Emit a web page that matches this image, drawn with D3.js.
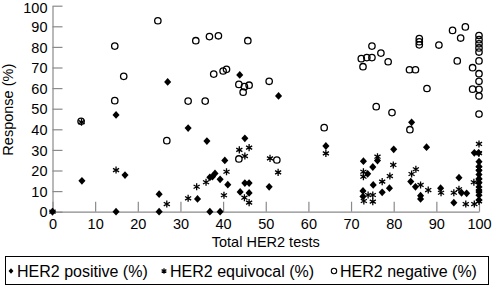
<!DOCTYPE html>
<html>
<head>
<meta charset="utf-8">
<script src="https://cdn.jsdelivr.net/npm/d3@7"></script>
<style>
  body { margin: 0; background: #fff; }
  text { font-family: "Liberation Sans", Arial, sans-serif; }
</style>
</head>
<body>
<div class="container"></div>
<script>
const WIDTH = 492;
const HEIGHT = 294;

var xTicks = [0, 10, 20, 30, 40, 50, 60, 70, 80, 90, 100];
var yTicks = [0, 10, 20, 30, 40, 50, 60, 70, 80, 90, 100];
var seriesNames = ['HER2 positive (%)', 'HER2 equivocal (%)', 'HER2 negative (%)'];

// [total tests, response %]
var positive = [
  [0, 0], [6.9, 15], [14.9, 47], [14.9, 0], [17, 17.8], [25, 8.5], [25, 0], [27, 63],
  [31.8, 40.6], [34, 6.2], [36.2, 34.3], [36.9, 0], [39.3, 0], [36.9, 16.7], [37.5, 17],
  [38.1, 18.6], [39.3, 15.7], [40.4, 24.9], [41.1, 13.1], [43.9, 66.4], [44, 9.6],
  [45.1, 13.9], [46.1, 13.9], [46.1, 9.1], [45.1, 35.6], [50.8, 12.1], [53, 56.2],
  [64.1, 31.9], [72.9, 24.5], [75.1, 21.7], [76.2, 24.8], [80, 30.3], [73.9, 18.4],
  [75.2, 13], [72.8, 10.1], [72.8, 7.4], [77.3, 9.4], [79, 11.4], [84.2, 43.4],
  [87.7, 31.3], [84, 14.6], [85.1, 12.1], [86.3, 7.8], [86.3, 6.2], [91, 11.4],
  [95.3, 16.5], [94.1, 4.4], [95.9, 9.2], [97.1, 8.9], [98.9, 28.6], [99.9, 28.6],
  [100, 24.3], [100, 22], [100, 20], [100, 18], [100, 16], [100, 14], [100, 12],
  [100, 10], [100, 8], [100, 5.7]
];

var equivocal = [
  [0, 0], [6.8, 43.5], [14.9, 20.2], [26.8, 3.7], [31.8, 6.5], [33.8, 12.1], [36, 14.3],
  [40.8, 19.4], [40.2, 8], [43.8, 30], [45.1, 27], [46.1, 31.1], [45, 6.8], [46.1, 4.4],
  [51, 25.9], [52.9, 19.1], [64.1, 28.3], [72.9, 19.4], [72.9, 17], [76.2, 26.7],
  [79.9, 22.7], [77.3, 14.6], [79.1, 17.3], [73, 5.2], [74, 8.1], [75.1, 8.1], [75.1, 4.9],
  [84.2, 18.3], [85.2, 20.6], [86.3, 13], [88.1, 10.5], [91.1, 9.2], [94.1, 9.2],
  [95.3, 10.9], [96.9, 3.7], [98.9, 3.7], [98.8, 14.3], [100, 32.9], [100, 28.4],
  [100, 21], [100, 15], [100, 10], [100, 5]
];

var negative = [
  [6.7, 43.9], [14.6, 80.4], [14.6, 53.9], [16.7, 65.7], [24.7, 92.7], [26.8, 34.5],
  [31.8, 53.7], [33.6, 83], [35.8, 53.7], [36.8, 85], [37.8, 66.8], [38.9, 85.4],
  [40, 68.3], [40.8, 69.1], [43.7, 61.8], [43.7, 25.6], [44.7, 58], [45, 60.7],
  [45.8, 83], [46.1, 61.4], [50.8, 63.3], [52.6, 25.1], [63.7, 40.8], [72.4, 74.3],
  [72.8, 70.4], [73.7, 74.8], [74.9, 74.8], [74.9, 80.4], [75.9, 51], [77, 77],
  [78.7, 72.8], [79.6, 48.1], [83.7, 68.9], [83.8, 39.8], [85.1, 68.9], [86, 84],
  [86, 82.5], [86, 81], [87.8, 59.8], [90.6, 80.9], [93.8, 88], [94.9, 73.2],
  [95.7, 84.3], [96.8, 89.7], [98.5, 69.9], [98.5, 59.5], [100, 85.5], [100, 83.5],
  [100, 81.5], [100, 79.5], [100, 77.5], [100, 73.2], [100, 67], [100, 63.3],
  [100, 59.4], [100, 56.2], [100, 47.4]
];

var margin = { left: 52.5, right: 13, top: 5.7, bottom: 82.3 };

var x = d3.scaleLinear().domain([0, 100]).range([margin.left, WIDTH - margin.right]);
var y = d3.scaleLinear().domain([0, 100]).range([HEIGHT - margin.bottom, margin.top]);

// custom marker shapes
var diamondShape = {
  draw: function (ctx, size) {
    var r = Math.sqrt(size) / 2;
    ctx.moveTo(0, -r * 1.1);
    ctx.lineTo(r, 0);
    ctx.lineTo(0, r * 1.1);
    ctx.lineTo(-r, 0);
    ctx.closePath();
  }
};

var asteriskShape = {
  draw: function (ctx, size) {
    var r = Math.sqrt(size) / 2;
    var dx = r * Math.cos(Math.PI / 6), dy = r * Math.sin(Math.PI / 6);
    ctx.moveTo(0, -r); ctx.lineTo(0, r);
    ctx.moveTo(-dx, -dy); ctx.lineTo(dx, dy);
    ctx.moveTo(-dx, dy); ctx.lineTo(dx, -dy);
  }
};

var svg = d3.select('.container').append('svg')
  .attr('width', WIDTH)
  .attr('height', HEIGHT);

// axes, ticks pointing inward
var xAxis = d3.axisBottom(x).tickValues(xTicks).tickSize(-10).tickPadding(7).tickSizeOuter(0);
var yAxis = d3.axisLeft(y).tickValues(yTicks).tickSize(-10).tickPadding(5).tickSizeOuter(0);

var gx = svg.append('g')
  .attr('transform', 'translate(0,' + y(0) + ')')
  .call(xAxis);
var gy = svg.append('g')
  .attr('transform', 'translate(' + x(0) + ',0)')
  .call(yAxis);

[gx, gy].forEach(function (g) {
  g.selectAll('path, line').attr('stroke', '#8a8a8a').attr('stroke-width', 1.2);
  g.selectAll('text').attr('fill', '#000').style('font-size', '14.5px')
    .style('font-family', '"Liberation Sans", Arial, sans-serif');
});
gy.selectAll('text').attr('dy', function (d) { return d === 100 ? '0.45em' : '0.36em'; });

svg.append('text')
  .attr('x', (x(0) + x(100)) / 2)
  .attr('y', 247)
  .attr('text-anchor', 'middle')
  .style('font-size', '14.5px')
  .text('Total HER2 tests');

svg.append('text')
  .attr('transform', 'translate(13,' + (y(50) + 1) + ') rotate(-90)')
  .attr('text-anchor', 'middle')
  .style('font-size', '14.5px')
  .text('Response (%)');

// points
var plot = svg.append('g');

plot.selectAll('.pos')
  .data(positive)
  .enter().append('path')
  .attr('class', 'pos')
  .attr('d', d3.symbol().type(diamondShape).size(50))
  .attr('transform', function (d) { return 'translate(' + x(d[0]) + ',' + y(d[1]) + ')'; })
  .attr('fill', '#000');

plot.selectAll('.equ')
  .data(equivocal)
  .enter().append('path')
  .attr('class', 'equ')
  .attr('d', d3.symbol().type(asteriskShape).size(50))
  .attr('transform', function (d) { return 'translate(' + x(d[0]) + ',' + y(d[1]) + ')'; })
  .attr('fill', 'none')
  .attr('stroke', '#000')
  .attr('stroke-width', 1.3);

plot.selectAll('.neg')
  .data(negative)
  .enter().append('circle')
  .attr('class', 'neg')
  .attr('cx', function (d) { return x(d[0]); })
  .attr('cy', function (d) { return y(d[1]); })
  .attr('r', 3.2)
  .attr('fill', 'none')
  .attr('stroke', '#000')
  .attr('stroke-width', 1.3);

// legend
var legend = svg.append('g');
legend.append('rect')
  .attr('x', 5.5).attr('y', 256.5)
  .attr('width', 483).attr('height', 28)
  .attr('fill', 'none').attr('stroke', '#000').attr('stroke-width', 1);

var legendX = [11, 164, 334];
seriesNames.forEach(function (name, i) {
  var item = legend.append('g').attr('transform', 'translate(' + legendX[i] + ',271)');
  if (i === 0) {
    item.append('path').attr('d', d3.symbol().type(diamondShape).size(24)).attr('fill', '#000');
  } else if (i === 1) {
    item.append('path').attr('d', d3.symbol().type(asteriskShape).size(30))
      .attr('fill', 'none').attr('stroke', '#000').attr('stroke-width', 1.2);
  } else {
    item.append('circle').attr('r', 2.7).attr('fill', 'none').attr('stroke', '#000').attr('stroke-width', 1.1);
  }
  item.append('text')
    .attr('x', 6)
    .attr('y', 5.5)
    .style('font-size', '16px')
    .text(name);
});
</script>
</body>
</html>
